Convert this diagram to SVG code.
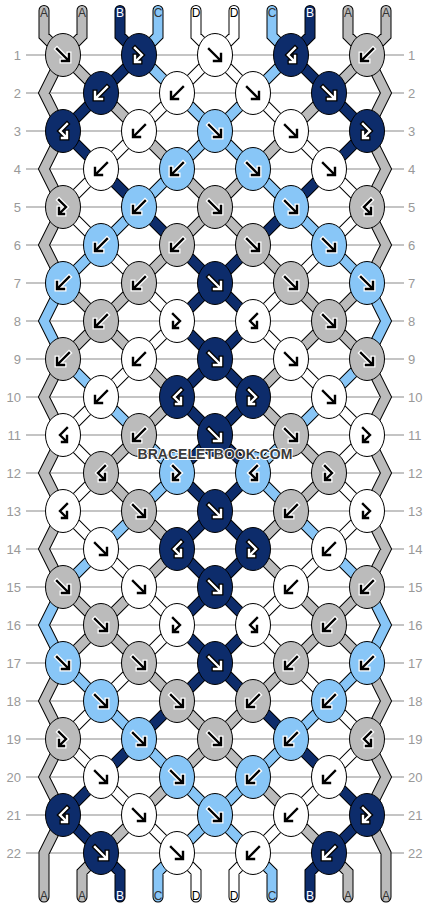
<svg xmlns="http://www.w3.org/2000/svg" xmlns:xlink="http://www.w3.org/1999/xlink" width="430" height="908" viewBox="0 0 430 908">
<style>
.grid line{stroke:#c4c4c4;stroke-width:2}
.rl{font-family:"Liberation Sans",Arial,sans-serif;font-size:13px;fill:#999}
.rl.l{text-anchor:end}
.sl{font-family:"Liberation Sans",Arial,sans-serif;font-size:12px;text-anchor:middle}
.ol{fill:none;stroke:#000;stroke-width:11;stroke-linecap:round;stroke-linejoin:miter}
.fl{fill:none;stroke-width:9;stroke-linecap:round;stroke-linejoin:miter}
.sA{stroke:#bbbbbb}.sB{stroke:#0d2c6b}.sC{stroke:#88c6f7}.sD{stroke:#ffffff}
.A{fill:#bbbbbb}.B{fill:#0d2c6b}.C{fill:#88c6f7}.D{fill:#ffffff}
.ah{fill:none;stroke:#fff;stroke-width:5;stroke-linecap:square}
.as{fill:none;stroke:#000;stroke-width:2.4;stroke-linecap:square}
.lh{fill:none;stroke:#000;stroke-width:5;stroke-linecap:square}
.ls{fill:none;stroke:#fff;stroke-width:2.4;stroke-linecap:square}
.wm{font-family:"Liberation Sans",Arial,sans-serif;font-size:14px;font-weight:bold;text-anchor:middle;fill:#3a3a3a;stroke:#fff;stroke-width:2;paint-order:stroke}
</style>
<defs>
<ellipse id="e" rx="17.5" ry="21.5" stroke="#000" stroke-width="1"/>
<path id="pF" d="M-6-6L4.5 4.5M-1 6H6V-1"/>
<path id="pB" d="M6-6L-4.5 4.5M1 6H-6V-1"/>
<path id="pFB" d="M-4-7L3 0L-3 6M-4 1V7H1"/>
<path id="pBF" d="M4-7L-3 0L3 6M4 1V7H-1"/>
<g id="dF"><use href="#pF" class="ah"/><use href="#pF" class="as"/></g>
<g id="dB"><use href="#pB" class="ah"/><use href="#pB" class="as"/></g>
<g id="dFB"><use href="#pFB" class="ah"/><use href="#pFB" class="as"/></g>
<g id="dBF"><use href="#pBF" class="ah"/><use href="#pBF" class="as"/></g>
<g id="lF"><use href="#pF" class="lh"/><use href="#pF" class="ls"/></g>
<g id="lB"><use href="#pB" class="lh"/><use href="#pB" class="ls"/></g>
<g id="lFB"><use href="#pFB" class="lh"/><use href="#pFB" class="ls"/></g>
<g id="lBF"><use href="#pBF" class="lh"/><use href="#pBF" class="ls"/></g>
<path id="gA" d="M63 55l38 38M367 55l-38 38M101 93l38 38M329 93l-38 38M139 131l38 38M291 131l-38 38M177 169l38 38M253 169l-38 38M215 207l-38 38M215 207l38 38M177 245l-38 38M253 245l38 38M63 283l38 38M139 283l-38 38M291 283l38 38M367 283l-38 38M101 321l-38 38M101 321l38 38M329 321l-38 38M329 321l38 38M139 359l38 38M291 359l-38 38M177 397l-38 38M253 397l38 38M139 435l-38 38M291 435l38 38M101 473l38 38M329 473l-38 38M139 511l38 38M291 511l-38 38M177 549l-38 38M253 549l38 38M63 587l38 38M139 587l-38 38M291 587l38 38M367 587l-38 38M101 625l-38 38M101 625l38 38M329 625l-38 38M329 625l38 38M139 663l38 38M291 663l-38 38M177 701l38 38M253 701l-38 38M215 739l-38 38M215 739l38 38M177 777l-38 38M253 777l38 38M139 815l-38 38M291 815l38 38M63 55L44 93L63 131L44 169L63 207L44 245L63 283M63 359L44 397L63 435L44 473L63 511L44 549L63 587M63 663L44 701L63 739L44 777L63 815L44 853V897M367 55L386 93L367 131L386 169L367 207L386 245L367 283M367 359L386 397L367 435L386 473L367 511L386 549L367 587M367 663L386 701L367 739L386 777L367 815L386 853V897M44 10.5V36L63 55M82 10.5V36L63 55M348 10.5V36L367 55M386 10.5V36L367 55M101 853L82 872V897M329 853L348 872V897"/>
<path id="gB" d="M139 55l-38 38M291 55l38 38M101 93l-38 38M329 93l38 38M63 131l38 38M367 131l-38 38M101 169l38 38M329 169l-38 38M139 207l38 38M291 207l-38 38M177 245l38 38M253 245l-38 38M215 283l-38 38M215 283l38 38M177 321l38 38M253 321l-38 38M215 359l-38 38M215 359l38 38M177 397l38 38M253 397l-38 38M215 435l-38 38M215 435l38 38M177 473l38 38M253 473l-38 38M215 511l-38 38M215 511l38 38M177 549l38 38M253 549l-38 38M215 587l-38 38M215 587l38 38M177 625l38 38M253 625l-38 38M215 663l-38 38M215 663l38 38M177 701l-38 38M253 701l38 38M139 739l-38 38M291 739l38 38M101 777l-38 38M329 777l38 38M63 815l38 38M367 815l-38 38M120 10.5V36L139 55M310 10.5V36L291 55M101 853L120 872V897M329 853L310 872V897"/>
<path id="gC" d="M139 55l38 38M291 55l-38 38M177 93l38 38M253 93l-38 38M215 131l-38 38M215 131l38 38M177 169l-38 38M253 169l38 38M139 207l-38 38M291 207l38 38M101 245l-38 38M329 245l38 38M63 359l38 38M367 359l-38 38M101 397l38 38M329 397l-38 38M139 435l38 38M291 435l-38 38M177 473l-38 38M253 473l38 38M139 511l-38 38M291 511l38 38M101 549l-38 38M329 549l38 38M63 663l38 38M367 663l-38 38M101 701l38 38M329 701l-38 38M139 739l38 38M291 739l-38 38M177 777l38 38M253 777l-38 38M215 815l-38 38M215 815l38 38M63 283L44 321L63 359M63 587L44 625L63 663M367 283L386 321L367 359M367 587L386 625L367 663M158 10.5V36L139 55M272 10.5V36L291 55M177 853L158 872V897M253 853L272 872V897"/>
<path id="gD" d="M215 55l-38 38M215 55l38 38M177 93l-38 38M253 93l38 38M139 131l-38 38M291 131l38 38M101 169l-38 38M329 169l38 38M63 207l38 38M367 207l-38 38M101 245l38 38M329 245l-38 38M139 283l38 38M291 283l-38 38M177 321l-38 38M253 321l38 38M139 359l-38 38M291 359l38 38M101 397l-38 38M329 397l38 38M63 435l38 38M367 435l-38 38M101 473l-38 38M329 473l38 38M63 511l38 38M367 511l-38 38M101 549l38 38M329 549l-38 38M139 587l38 38M291 587l-38 38M177 625l-38 38M253 625l38 38M139 663l-38 38M291 663l38 38M101 701l-38 38M329 701l38 38M63 739l38 38M367 739l-38 38M101 777l38 38M329 777l-38 38M139 815l38 38M291 815l-38 38M196 10.5V36L215 55M234 10.5V36L215 55M177 853L196 872V897M253 853L234 872V897"/>
</defs>
<rect width="430" height="908" fill="#fff"/>
<g id="grid" class="grid">
<line x1="26" y1="55" x2="404" y2="55"/><line x1="26" y1="93" x2="404" y2="93"/><line x1="26" y1="131" x2="404" y2="131"/><line x1="26" y1="169" x2="404" y2="169"/><line x1="26" y1="207" x2="404" y2="207"/><line x1="26" y1="245" x2="404" y2="245"/><line x1="26" y1="283" x2="404" y2="283"/><line x1="26" y1="321" x2="404" y2="321"/><line x1="26" y1="359" x2="404" y2="359"/><line x1="26" y1="397" x2="404" y2="397"/><line x1="26" y1="435" x2="404" y2="435"/><line x1="26" y1="473" x2="404" y2="473"/><line x1="26" y1="511" x2="404" y2="511"/><line x1="26" y1="549" x2="404" y2="549"/><line x1="26" y1="587" x2="404" y2="587"/><line x1="26" y1="625" x2="404" y2="625"/><line x1="26" y1="663" x2="404" y2="663"/><line x1="26" y1="701" x2="404" y2="701"/><line x1="26" y1="739" x2="404" y2="739"/><line x1="26" y1="777" x2="404" y2="777"/><line x1="26" y1="815" x2="404" y2="815"/><line x1="26" y1="853" x2="404" y2="853"/>
</g>
<g id="row-labels">
<text class="rl l" x="21" y="59.5">1</text><text class="rl" x="408" y="59.5">1</text>
<text class="rl l" x="21" y="97.5">2</text><text class="rl" x="408" y="97.5">2</text>
<text class="rl l" x="21" y="135.5">3</text><text class="rl" x="408" y="135.5">3</text>
<text class="rl l" x="21" y="173.5">4</text><text class="rl" x="408" y="173.5">4</text>
<text class="rl l" x="21" y="211.5">5</text><text class="rl" x="408" y="211.5">5</text>
<text class="rl l" x="21" y="249.5">6</text><text class="rl" x="408" y="249.5">6</text>
<text class="rl l" x="21" y="287.5">7</text><text class="rl" x="408" y="287.5">7</text>
<text class="rl l" x="21" y="325.5">8</text><text class="rl" x="408" y="325.5">8</text>
<text class="rl l" x="21" y="363.5">9</text><text class="rl" x="408" y="363.5">9</text>
<text class="rl l" x="21" y="401.5">10</text><text class="rl" x="408" y="401.5">10</text>
<text class="rl l" x="21" y="439.5">11</text><text class="rl" x="408" y="439.5">11</text>
<text class="rl l" x="21" y="477.5">12</text><text class="rl" x="408" y="477.5">12</text>
<text class="rl l" x="21" y="515.5">13</text><text class="rl" x="408" y="515.5">13</text>
<text class="rl l" x="21" y="553.5">14</text><text class="rl" x="408" y="553.5">14</text>
<text class="rl l" x="21" y="591.5">15</text><text class="rl" x="408" y="591.5">15</text>
<text class="rl l" x="21" y="629.5">16</text><text class="rl" x="408" y="629.5">16</text>
<text class="rl l" x="21" y="667.5">17</text><text class="rl" x="408" y="667.5">17</text>
<text class="rl l" x="21" y="705.5">18</text><text class="rl" x="408" y="705.5">18</text>
<text class="rl l" x="21" y="743.5">19</text><text class="rl" x="408" y="743.5">19</text>
<text class="rl l" x="21" y="781.5">20</text><text class="rl" x="408" y="781.5">20</text>
<text class="rl l" x="21" y="819.5">21</text><text class="rl" x="408" y="819.5">21</text>
<text class="rl l" x="21" y="857.5">22</text><text class="rl" x="408" y="857.5">22</text>
</g>
<g id="connectors">
<use href="#gA" class="ol"/><use href="#gB" class="ol"/><use href="#gC" class="ol"/><use href="#gD" class="ol"/>
<use href="#gA" class="fl sA"/><use href="#gB" class="fl sB"/><use href="#gC" class="fl sC"/><use href="#gD" class="fl sD"/>
</g>
<g id="string-labels">
<text class="sl" x="44" y="17" fill="#333">A</text><text class="sl" x="82" y="17" fill="#333">A</text><text class="sl" x="120" y="17" fill="#fff">B</text><text class="sl" x="158" y="17" fill="#333">C</text><text class="sl" x="196" y="17" fill="#000">D</text><text class="sl" x="234" y="17" fill="#000">D</text><text class="sl" x="272" y="17" fill="#333">C</text><text class="sl" x="310" y="17" fill="#fff">B</text><text class="sl" x="348" y="17" fill="#333">A</text><text class="sl" x="386" y="17" fill="#333">A</text>
<text class="sl" x="44" y="900" fill="#333">A</text><text class="sl" x="82" y="900" fill="#333">A</text><text class="sl" x="120" y="900" fill="#fff">B</text><text class="sl" x="158" y="900" fill="#333">C</text><text class="sl" x="196" y="900" fill="#000">D</text><text class="sl" x="234" y="900" fill="#000">D</text><text class="sl" x="272" y="900" fill="#333">C</text><text class="sl" x="310" y="900" fill="#fff">B</text><text class="sl" x="348" y="900" fill="#333">A</text><text class="sl" x="386" y="900" fill="#333">A</text>
</g>
<g id="knots">
<g id="k1-1" transform="translate(63 55)"><use href="#e" class="A"/><use href="#dF"/></g>
<g id="k1-2" transform="translate(139 55)"><use href="#e" class="B"/><use href="#lFB"/></g>
<g id="k1-3" transform="translate(215 55)"><use href="#e" class="D"/><use href="#dF"/></g>
<g id="k1-4" transform="translate(291 55)"><use href="#e" class="B"/><use href="#lBF"/></g>
<g id="k1-5" transform="translate(367 55)"><use href="#e" class="A"/><use href="#dB"/></g>
<g id="k2-1" transform="translate(101 93)"><use href="#e" class="B"/><use href="#lB"/></g>
<g id="k2-2" transform="translate(177 93)"><use href="#e" class="D"/><use href="#dB"/></g>
<g id="k2-3" transform="translate(253 93)"><use href="#e" class="D"/><use href="#dF"/></g>
<g id="k2-4" transform="translate(329 93)"><use href="#e" class="B"/><use href="#lF"/></g>
<g id="k3-1" transform="translate(63 131)"><use href="#e" class="B"/><use href="#lBF"/></g>
<g id="k3-2" transform="translate(139 131)"><use href="#e" class="D"/><use href="#dB"/></g>
<g id="k3-3" transform="translate(215 131)"><use href="#e" class="C"/><use href="#dF"/></g>
<g id="k3-4" transform="translate(291 131)"><use href="#e" class="D"/><use href="#dF"/></g>
<g id="k3-5" transform="translate(367 131)"><use href="#e" class="B"/><use href="#lFB"/></g>
<g id="k4-1" transform="translate(101 169)"><use href="#e" class="D"/><use href="#dB"/></g>
<g id="k4-2" transform="translate(177 169)"><use href="#e" class="C"/><use href="#dB"/></g>
<g id="k4-3" transform="translate(253 169)"><use href="#e" class="C"/><use href="#dF"/></g>
<g id="k4-4" transform="translate(329 169)"><use href="#e" class="D"/><use href="#dF"/></g>
<g id="k5-1" transform="translate(63 207)"><use href="#e" class="A"/><use href="#dFB"/></g>
<g id="k5-2" transform="translate(139 207)"><use href="#e" class="C"/><use href="#dB"/></g>
<g id="k5-3" transform="translate(215 207)"><use href="#e" class="A"/><use href="#dF"/></g>
<g id="k5-4" transform="translate(291 207)"><use href="#e" class="C"/><use href="#dF"/></g>
<g id="k5-5" transform="translate(367 207)"><use href="#e" class="A"/><use href="#dBF"/></g>
<g id="k6-1" transform="translate(101 245)"><use href="#e" class="C"/><use href="#dB"/></g>
<g id="k6-2" transform="translate(177 245)"><use href="#e" class="A"/><use href="#dB"/></g>
<g id="k6-3" transform="translate(253 245)"><use href="#e" class="A"/><use href="#dF"/></g>
<g id="k6-4" transform="translate(329 245)"><use href="#e" class="C"/><use href="#dF"/></g>
<g id="k7-1" transform="translate(63 283)"><use href="#e" class="C"/><use href="#dB"/></g>
<g id="k7-2" transform="translate(139 283)"><use href="#e" class="A"/><use href="#dB"/></g>
<g id="k7-3" transform="translate(215 283)"><use href="#e" class="B"/><use href="#lF"/></g>
<g id="k7-4" transform="translate(291 283)"><use href="#e" class="A"/><use href="#dF"/></g>
<g id="k7-5" transform="translate(367 283)"><use href="#e" class="C"/><use href="#dF"/></g>
<g id="k8-1" transform="translate(101 321)"><use href="#e" class="A"/><use href="#dB"/></g>
<g id="k8-2" transform="translate(177 321)"><use href="#e" class="D"/><use href="#dFB"/></g>
<g id="k8-3" transform="translate(253 321)"><use href="#e" class="D"/><use href="#dBF"/></g>
<g id="k8-4" transform="translate(329 321)"><use href="#e" class="A"/><use href="#dF"/></g>
<g id="k9-1" transform="translate(63 359)"><use href="#e" class="A"/><use href="#dB"/></g>
<g id="k9-2" transform="translate(139 359)"><use href="#e" class="D"/><use href="#dB"/></g>
<g id="k9-3" transform="translate(215 359)"><use href="#e" class="B"/><use href="#lF"/></g>
<g id="k9-4" transform="translate(291 359)"><use href="#e" class="D"/><use href="#dF"/></g>
<g id="k9-5" transform="translate(367 359)"><use href="#e" class="A"/><use href="#dF"/></g>
<g id="k10-1" transform="translate(101 397)"><use href="#e" class="D"/><use href="#dB"/></g>
<g id="k10-2" transform="translate(177 397)"><use href="#e" class="B"/><use href="#lBF"/></g>
<g id="k10-3" transform="translate(253 397)"><use href="#e" class="B"/><use href="#lFB"/></g>
<g id="k10-4" transform="translate(329 397)"><use href="#e" class="D"/><use href="#dF"/></g>
<g id="k11-1" transform="translate(63 435)"><use href="#e" class="D"/><use href="#dBF"/></g>
<g id="k11-2" transform="translate(139 435)"><use href="#e" class="A"/><use href="#dB"/></g>
<g id="k11-3" transform="translate(215 435)"><use href="#e" class="B"/><use href="#lF"/></g>
<g id="k11-4" transform="translate(291 435)"><use href="#e" class="A"/><use href="#dF"/></g>
<g id="k11-5" transform="translate(367 435)"><use href="#e" class="D"/><use href="#dFB"/></g>
<g id="k12-1" transform="translate(101 473)"><use href="#e" class="A"/><use href="#dBF"/></g>
<g id="k12-2" transform="translate(177 473)"><use href="#e" class="C"/><use href="#dFB"/></g>
<g id="k12-3" transform="translate(253 473)"><use href="#e" class="C"/><use href="#dBF"/></g>
<g id="k12-4" transform="translate(329 473)"><use href="#e" class="A"/><use href="#dFB"/></g>
<g id="k13-1" transform="translate(63 511)"><use href="#e" class="D"/><use href="#dBF"/></g>
<g id="k13-2" transform="translate(139 511)"><use href="#e" class="A"/><use href="#dF"/></g>
<g id="k13-3" transform="translate(215 511)"><use href="#e" class="B"/><use href="#lF"/></g>
<g id="k13-4" transform="translate(291 511)"><use href="#e" class="A"/><use href="#dB"/></g>
<g id="k13-5" transform="translate(367 511)"><use href="#e" class="D"/><use href="#dFB"/></g>
<g id="k14-1" transform="translate(101 549)"><use href="#e" class="D"/><use href="#dF"/></g>
<g id="k14-2" transform="translate(177 549)"><use href="#e" class="B"/><use href="#lBF"/></g>
<g id="k14-3" transform="translate(253 549)"><use href="#e" class="B"/><use href="#lFB"/></g>
<g id="k14-4" transform="translate(329 549)"><use href="#e" class="D"/><use href="#dB"/></g>
<g id="k15-1" transform="translate(63 587)"><use href="#e" class="A"/><use href="#dF"/></g>
<g id="k15-2" transform="translate(139 587)"><use href="#e" class="D"/><use href="#dF"/></g>
<g id="k15-3" transform="translate(215 587)"><use href="#e" class="B"/><use href="#lF"/></g>
<g id="k15-4" transform="translate(291 587)"><use href="#e" class="D"/><use href="#dB"/></g>
<g id="k15-5" transform="translate(367 587)"><use href="#e" class="A"/><use href="#dB"/></g>
<g id="k16-1" transform="translate(101 625)"><use href="#e" class="A"/><use href="#dF"/></g>
<g id="k16-2" transform="translate(177 625)"><use href="#e" class="D"/><use href="#dFB"/></g>
<g id="k16-3" transform="translate(253 625)"><use href="#e" class="D"/><use href="#dBF"/></g>
<g id="k16-4" transform="translate(329 625)"><use href="#e" class="A"/><use href="#dB"/></g>
<g id="k17-1" transform="translate(63 663)"><use href="#e" class="C"/><use href="#dF"/></g>
<g id="k17-2" transform="translate(139 663)"><use href="#e" class="A"/><use href="#dF"/></g>
<g id="k17-3" transform="translate(215 663)"><use href="#e" class="B"/><use href="#lF"/></g>
<g id="k17-4" transform="translate(291 663)"><use href="#e" class="A"/><use href="#dB"/></g>
<g id="k17-5" transform="translate(367 663)"><use href="#e" class="C"/><use href="#dB"/></g>
<g id="k18-1" transform="translate(101 701)"><use href="#e" class="C"/><use href="#dF"/></g>
<g id="k18-2" transform="translate(177 701)"><use href="#e" class="A"/><use href="#dF"/></g>
<g id="k18-3" transform="translate(253 701)"><use href="#e" class="A"/><use href="#dB"/></g>
<g id="k18-4" transform="translate(329 701)"><use href="#e" class="C"/><use href="#dB"/></g>
<g id="k19-1" transform="translate(63 739)"><use href="#e" class="A"/><use href="#dFB"/></g>
<g id="k19-2" transform="translate(139 739)"><use href="#e" class="C"/><use href="#dF"/></g>
<g id="k19-3" transform="translate(215 739)"><use href="#e" class="A"/><use href="#dF"/></g>
<g id="k19-4" transform="translate(291 739)"><use href="#e" class="C"/><use href="#dB"/></g>
<g id="k19-5" transform="translate(367 739)"><use href="#e" class="A"/><use href="#dBF"/></g>
<g id="k20-1" transform="translate(101 777)"><use href="#e" class="D"/><use href="#dF"/></g>
<g id="k20-2" transform="translate(177 777)"><use href="#e" class="C"/><use href="#dF"/></g>
<g id="k20-3" transform="translate(253 777)"><use href="#e" class="C"/><use href="#dB"/></g>
<g id="k20-4" transform="translate(329 777)"><use href="#e" class="D"/><use href="#dB"/></g>
<g id="k21-1" transform="translate(63 815)"><use href="#e" class="B"/><use href="#lBF"/></g>
<g id="k21-2" transform="translate(139 815)"><use href="#e" class="D"/><use href="#dF"/></g>
<g id="k21-3" transform="translate(215 815)"><use href="#e" class="C"/><use href="#dF"/></g>
<g id="k21-4" transform="translate(291 815)"><use href="#e" class="D"/><use href="#dB"/></g>
<g id="k21-5" transform="translate(367 815)"><use href="#e" class="B"/><use href="#lFB"/></g>
<g id="k22-1" transform="translate(101 853)"><use href="#e" class="B"/><use href="#lF"/></g>
<g id="k22-2" transform="translate(177 853)"><use href="#e" class="D"/><use href="#dF"/></g>
<g id="k22-3" transform="translate(253 853)"><use href="#e" class="D"/><use href="#dB"/></g>
<g id="k22-4" transform="translate(329 853)"><use href="#e" class="B"/><use href="#lB"/></g>
</g>
<text id="watermark" class="wm" x="215" y="459">BRACELETBOOK.COM</text>
</svg>
